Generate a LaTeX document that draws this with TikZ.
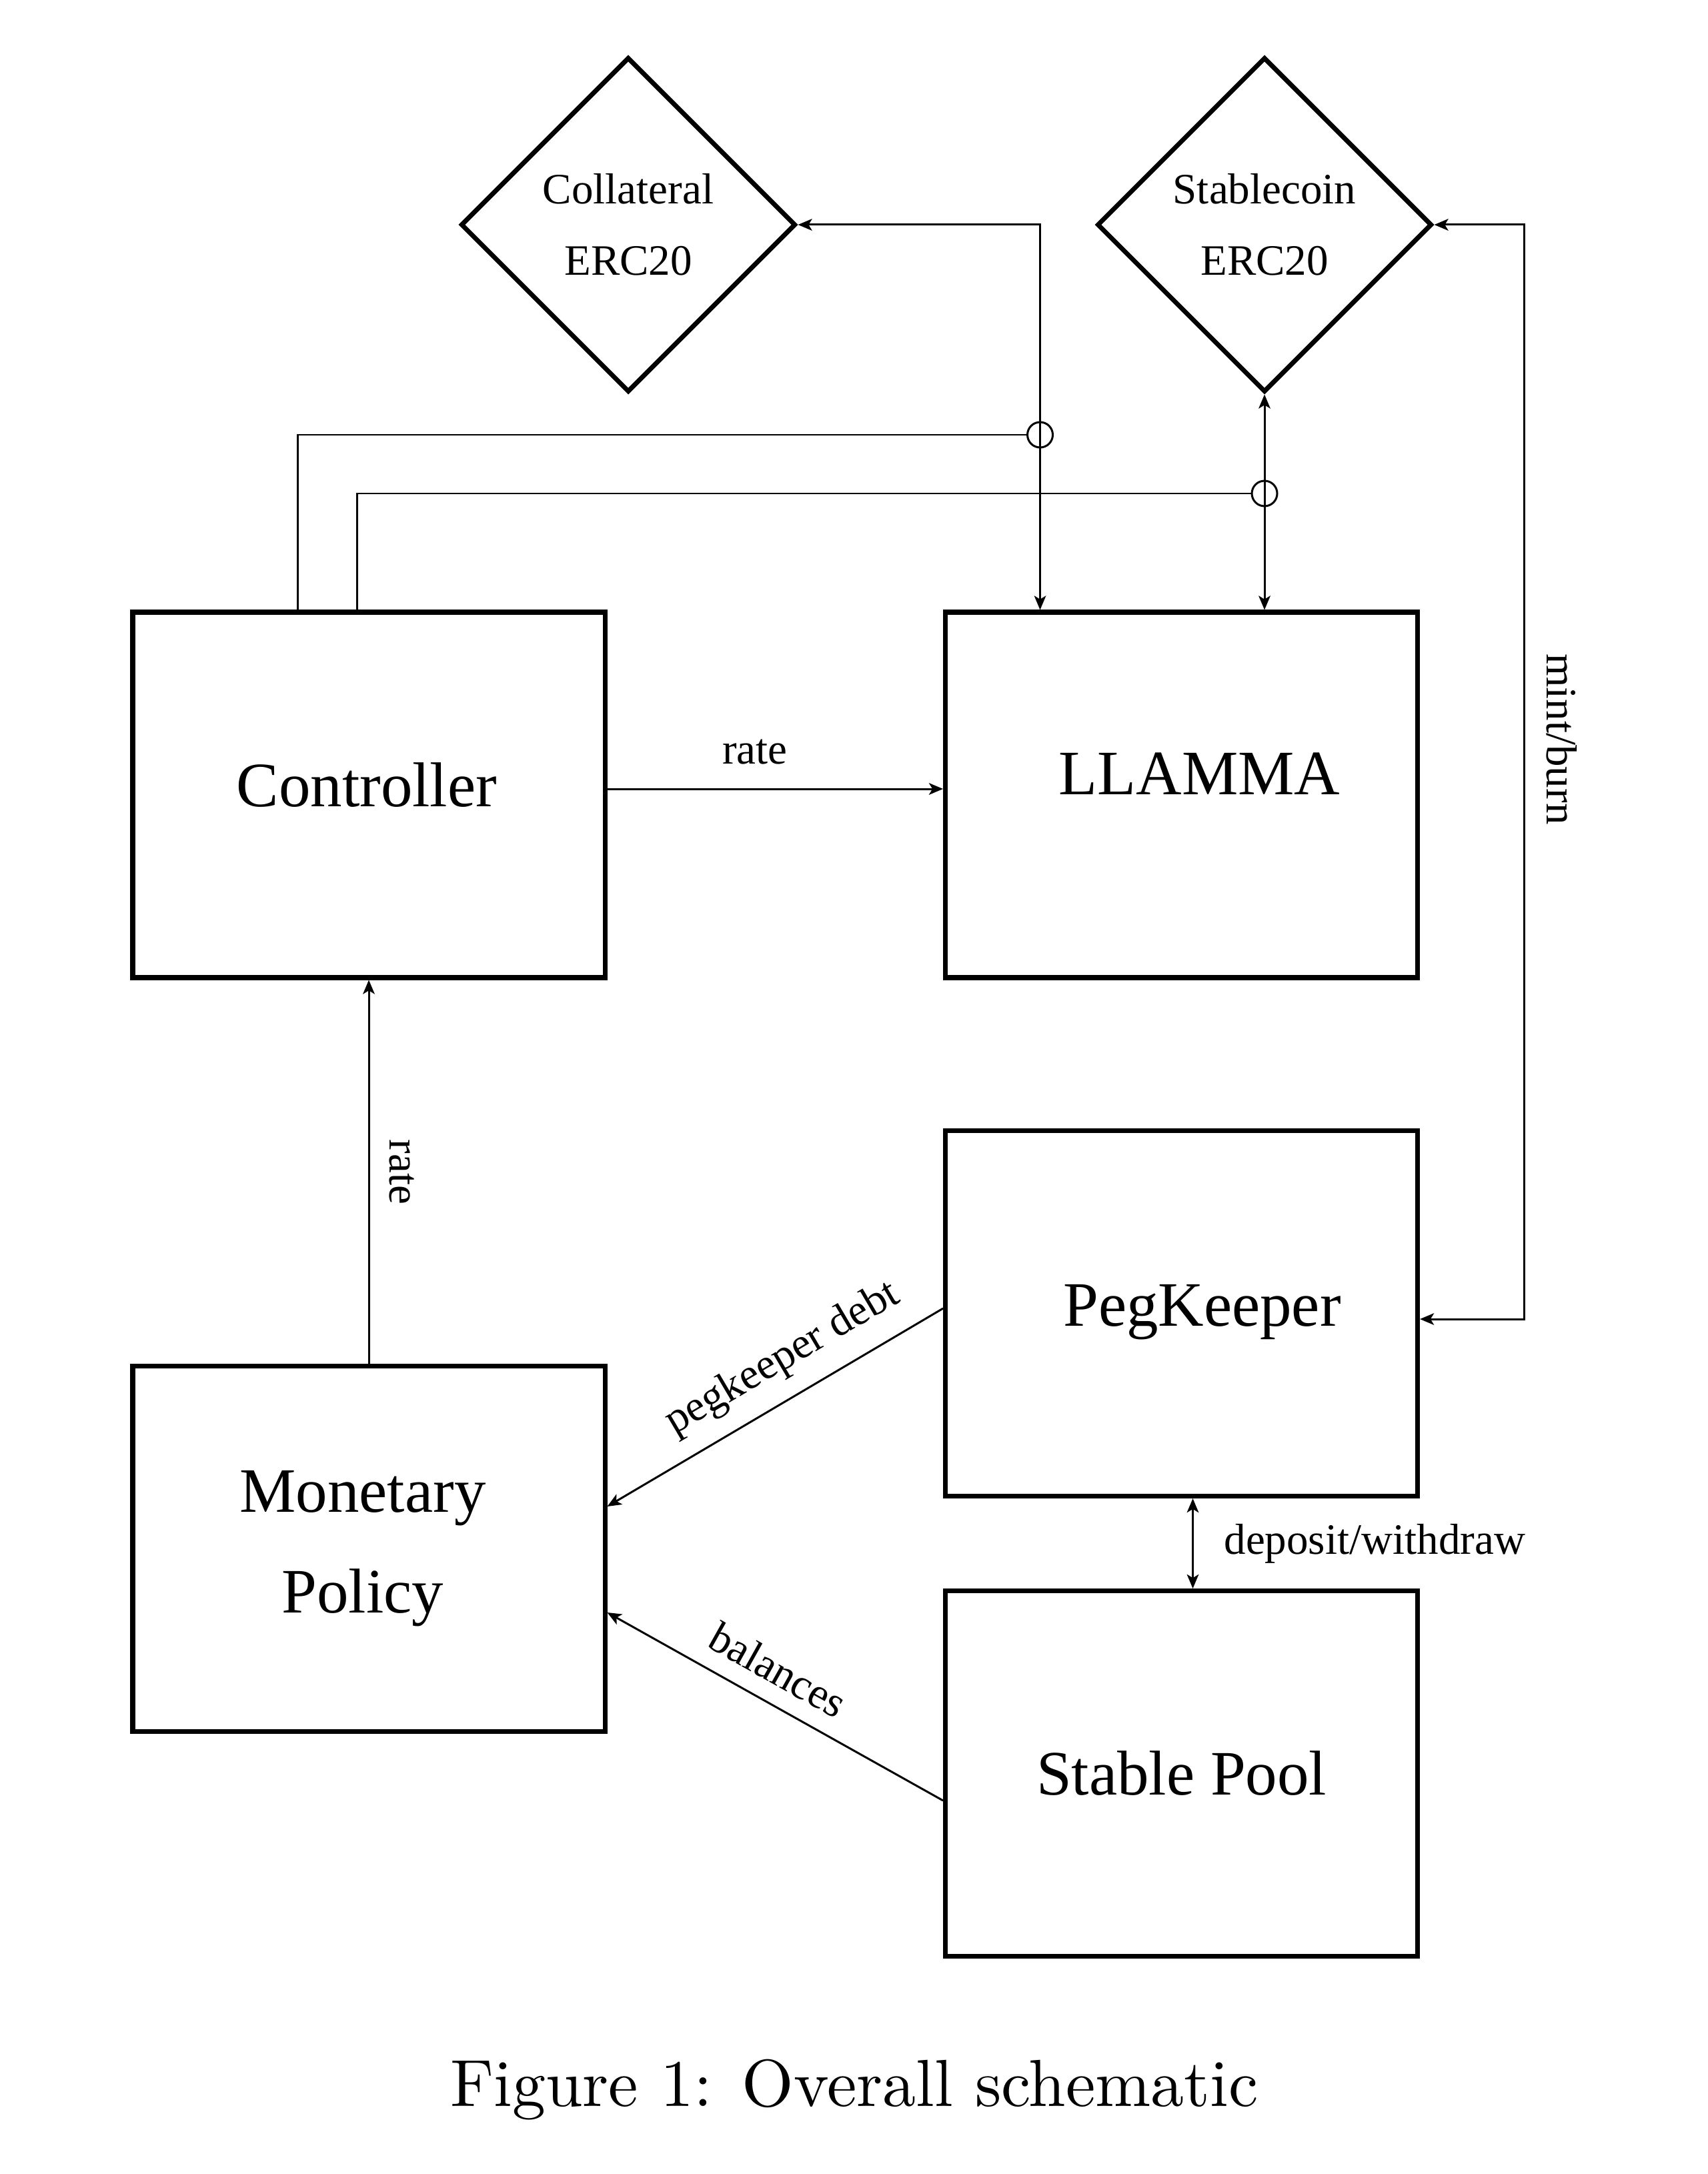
\documentclass[tikz,border=0pt]{standalone}
\usepackage{fontspec}
\newfontfamily\diagfont{Liberation Serif}
\newfontfamily\capfont{lmroman10-regular}[Extension=.otf]
\usetikzlibrary{shapes.geometric,arrows.meta}

\begin{document}
\begin{tikzpicture}[>={Stealth[length=6pt,width=5pt,inset=1.5pt]}]
    \tikzstyle{block}=[draw, line width=2pt, minimum width=7.08cm, minimum height=5.48cm, inner sep=0pt, align=center, font=\diagfont\fontsize{27}{43}\selectfont]
    \tikzstyle{blocktext}=[inner sep=0pt, align=center, font=\diagfont\fontsize{27}{43}\selectfont]
    \tikzstyle{token}=[draw, diamond, aspect=1, line width=2pt, minimum width=5.02cm, minimum height=5.02cm, inner sep=0pt, align=center, font=\diagfont\fontsize{18.5}{30.4}\selectfont]
    \tikzstyle{joint}=[draw, circle, line width=0.85pt, minimum size=0.38cm, inner sep=0pt]
    \tikzstyle{link}=[line width=0.85pt]
    \tikzstyle{lbl}=[font=\diagfont\fontsize{18.5}{22}\selectfont, inner sep=2pt, outer sep=0.2cm]

    \useasboundingbox (0,0) rectangle (25.6,-32.6);

% contracts and tokens
    \node[token] (coll) at (9.42,-3.37) {Collateral\\ERC20};
    \node[token] (stab) at (18.96,-3.37) {Stablecoin\\ERC20};
    \node[block] (ctrl) at (5.53,-11.92) {};
    \node[block] (llamma) at (17.715,-11.92) {};
    \node[block] (pk) at (17.715,-19.695) {};
    \node[block] (mp) at (5.53,-23.225) {};
    \node[block] (sp) at (17.715,-26.595) {Stable Pool};
    \node[blocktext] (ctrltext) at ([xshift=-0.03cm,yshift=0.15cm]ctrl.center) {Controller};
    \node[blocktext] (llammatext) at ([xshift=0.27cm,yshift=0.32cm]llamma.center) {LLAMMA};
    \node[blocktext] (pktext) at ([xshift=0.31cm,yshift=0.02cm]pk.center) {PegKeeper};
    \node[blocktext] (mptext) at ([xshift=-0.09cm]mp.center) {Monetary\\Policy};
    \node[joint] (j1) at (15.595,-6.52) {};
    \node[joint] (j2) at (18.96,-7.40) {};

% connections
    \draw[link,<->] (coll.east) -| (j1.center) -- (j1.center |- llamma.north);
    \draw[link,<->] (stab.south) -- (stab.south |- llamma.north);
    \draw[link] ([xshift=-1.07cm]ctrl.north) |- (j1);
    \draw[link] ([xshift=-0.18cm]ctrl.north) |- (j2);
    \draw[link,<->] (stab.east) -- (stab.east -| 22.855,0) |- ([yshift=-0.085cm]pk.east) node[lbl, pos=0.235, anchor=south, rotate=-90, outer sep=0.26cm] {mint/burn};
    \draw[link,->] ([yshift=0.09cm]ctrl.east) -- ([yshift=0.09cm]llamma.west) node[lbl, pos=0.44, above, outer sep=0.3cm] {rate};
    \draw[link,->] (mp.north) -- (ctrl.south) node[lbl, midway, anchor=south, rotate=-90, outer sep=0.24cm] {rate};
    \draw[link,<-] ([yshift=0.635cm]mp.east) -- ([yshift=0.075cm]pk.west) node[lbl, pos=0.58, above, sloped] {pegkeeper debt};
    \draw[link,<-] ([yshift=-0.955cm]mp.east) -- ([yshift=-0.405cm]sp.west) node[lbl, pos=0.46, above, sloped] {balances};
    \draw[link,<->] ([xshift=0.17cm]pk.south) -- ([xshift=0.17cm]sp.north) node[lbl, midway, right=0.2cm] {deposit/withdraw};

    \node[font=\capfont\fontsize{28.4}{34}\selectfont, anchor=base] (caption) at (12.81,-31.58) {Figure 1: Overall schematic};

\end{tikzpicture}
\end{document}
